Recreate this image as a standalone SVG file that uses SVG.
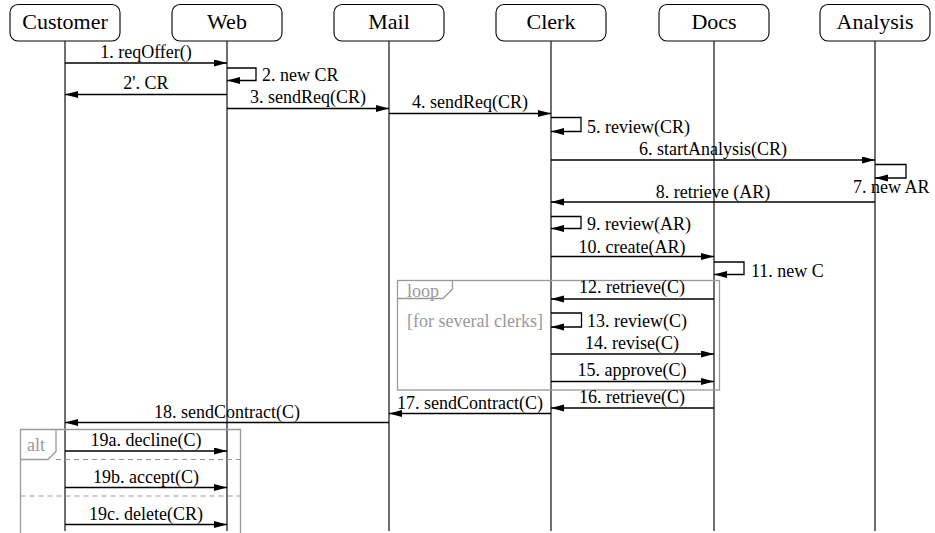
<svg xmlns="http://www.w3.org/2000/svg" width="935" height="533" viewBox="0 0 935 533">
<style>
text{font-family:'Liberation Serif','Times New Roman',Tinos,'Noto Serif','DejaVu Serif',serif;fill:#000}
.hdr{font-size:22px;text-anchor:middle}
.lbl{font-size:18px}
.c{text-anchor:middle}
.box{fill:#fff;stroke:#000;stroke-width:1.1}
.life{stroke:#222;stroke-width:1.3;fill:none}
.msg{stroke:#000;stroke-width:1.3;fill:none;marker-end:url(#ah)}
.frame{stroke:#999;stroke-width:1.3;fill:none}
.dash{stroke:#999;stroke-width:1.2;fill:none;stroke-dasharray:5,4}
.ftxt{font-size:18px;fill:#999}
</style>
<defs>
<marker id="ah" markerUnits="userSpaceOnUse" markerWidth="14" markerHeight="8" refX="13" refY="3.5" orient="auto">
<path d="M0,0 L13,3.5 L0,7 z" fill="#000"/>
</marker>
</defs>
<g font-family="Liberation Serif, Times New Roman, DejaVu Serif, serif">
<g id="Customer"><rect class="box" x="10" y="4.5" width="110" height="36.5" rx="8"/><text class="hdr" x="65" y="29">Customer</text><line class="life" x1="65" y1="41" x2="65" y2="531"/></g>
<g id="Web"><rect class="box" x="172" y="4.5" width="110" height="36.5" rx="8"/><text class="hdr" x="227" y="29">Web</text><line class="life" x1="227" y1="41" x2="227" y2="531"/></g>
<g id="Mail"><rect class="box" x="334" y="4.5" width="110" height="36.5" rx="8"/><text class="hdr" x="389" y="29">Mail</text><line class="life" x1="389" y1="41" x2="389" y2="531"/></g>
<g id="Clerk"><rect class="box" x="496" y="4.5" width="110" height="36.5" rx="8"/><text class="hdr" x="551" y="29">Clerk</text><line class="life" x1="551" y1="41" x2="551" y2="531"/></g>
<g id="Docs"><rect class="box" x="659" y="4.5" width="110" height="36.5" rx="8"/><text class="hdr" x="714" y="29">Docs</text><line class="life" x1="714" y1="41" x2="714" y2="531"/></g>
<g id="Analysis"><rect class="box" x="820" y="4.5" width="110" height="36.5" rx="8"/><text class="hdr" x="875" y="29">Analysis</text><line class="life" x1="875" y1="41" x2="875" y2="531"/></g>
<g id="loop-frame">
<rect class="frame" x="397.5" y="280.5" width="322" height="109.5"/>
<path class="frame" d="M397.5,298.5 H443 L452.5,289 V280.5"/>
<text class="ftxt" x="407" y="297">loop</text>
<text class="ftxt" x="407" y="327">[for several clerks]</text>
</g>
<g id="alt-frame">
<path class="frame" d="M20.5,533 V429.5 H240.5 V533"/>
<path class="frame" d="M20.5,459.5 H48 L56,451.5 V429.5"/>
<path class="dash" d="M56,459.5 H240.5 M20.5,496 H240.5"/>
<text class="ftxt" x="27" y="451">alt</text>
</g>
<g id="connectors">
<path class="msg" d="M65,63 H227"/>
<path class="msg" d="M227,68 H256 V80.5 H227"/>
<path class="msg" d="M227,94.5 H65"/>
<path class="msg" d="M227,108.5 H389"/>
<path class="msg" d="M389,113.5 H551"/>
<path class="msg" d="M551,117.5 H581 V131.5 H551"/>
<path class="msg" d="M551,160 H875"/>
<path class="msg" d="M875,164.5 H906 V178 H875"/>
<path class="msg" d="M875,202 H551"/>
<path class="msg" d="M551,216.5 H581 V228.5 H551"/>
<path class="msg" d="M551,256.5 H714"/>
<path class="msg" d="M714,262 H744 V274.5 H714"/>
<path class="msg" d="M714,299 H551"/>
<path class="msg" d="M551,313 H581.5 V327 H551"/>
<path class="msg" d="M551,354 H714"/>
<path class="msg" d="M551,381.5 H714"/>
<path class="msg" d="M714,408 H551"/>
<path class="msg" d="M551,413.5 H389"/>
<path class="msg" d="M389,422.5 H65"/>
<path class="msg" d="M65,451 H227"/>
<path class="msg" d="M65,487.5 H227"/>
<path class="msg" d="M65,524.5 H227"/>
<text class="lbl c" x="146" y="57.5">1. reqOffer()</text>
<text class="lbl" x="262" y="81">2. new CR</text>
<text class="lbl c" x="146" y="89">2'. CR</text>
<text class="lbl c" x="308" y="103">3. sendReq(CR)</text>
<text class="lbl c" x="470" y="107.5">4. sendReq(CR)</text>
<text class="lbl" x="587" y="133">5. review(CR)</text>
<text class="lbl c" x="713" y="154.5">6. startAnalysis(CR)</text>
<text class="lbl" x="853" y="192.5">7. new AR</text>
<text class="lbl c" x="713" y="197.5">8. retrieve (AR)</text>
<text class="lbl" x="587" y="230">9. review(AR)</text>
<text class="lbl c" x="632" y="252.5">10. create(AR)</text>
<text class="lbl" x="751" y="277">11. new C</text>
<text class="lbl c" x="632" y="293">12. retrieve(C)</text>
<text class="lbl" x="587" y="327">13. review(C)</text>
<text class="lbl c" x="632" y="348.5">14. revise(C)</text>
<text class="lbl c" x="632" y="376">15. approve(C)</text>
<text class="lbl c" x="632" y="402.5">16. retrieve(C)</text>
<text class="lbl c" x="470" y="409">17. sendContract(C)</text>
<text class="lbl c" x="227" y="417.5">18. sendContract(C)</text>
<text class="lbl c" x="146" y="446">19a. decline(C)</text>
<text class="lbl c" x="146" y="482.5">19b. accept(C)</text>
<text class="lbl c" x="146" y="519.5">19c. delete(CR)</text>
</g>
</g>
</svg>
